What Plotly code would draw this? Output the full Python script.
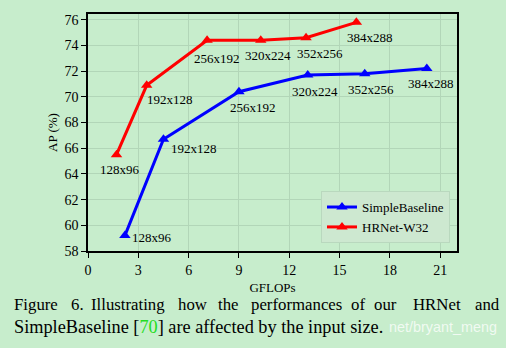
import plotly.graph_objects as go

# ---- data ----
sb_gflops = [2.2, 4.5, 9.0, 13.1, 16.5, 20.2]
sb_ap = [59.2, 66.7, 70.4, 71.7, 71.8, 72.2]
sb_sizes = ["128x96", "192x128", "256x192", "320x224", "352x256", "384x288"]

hr_gflops = [1.7, 3.5, 7.1, 10.3, 13.0, 16.0]
hr_ap = [65.5, 70.9, 74.4, 74.4, 74.6, 75.8]
hr_sizes = ["128x96", "192x128", "256x192", "320x224", "352x256", "384x288"]

x_ticks = [0, 3, 6, 9, 12, 15, 18, 21]
y_ticks = [58, 60, 62, 64, 66, 68, 70, 72, 74, 76]

# label offsets (pixels) -- style
sb_off = [(27, -2), (31, -9), (14, -16), (7, -16), (6, -16), (4, -15)]
hr_off = [(3, -15), (23, -14), (10, -18), (7, -15), (14, -16), (14, -15)]

BG = "#C7EDCC"
FONT = "Liberation Serif"

fig = go.Figure()
fig.add_trace(go.Scatter(x=sb_gflops, y=sb_ap, mode="lines+markers", name="SimpleBaseline",
                         line=dict(color="#0000ff", width=3),
                         marker=dict(symbol="triangle-up", size=10, color="#0000ff")))
fig.add_trace(go.Scatter(x=hr_gflops, y=hr_ap, mode="lines+markers", name="HRNet-W32",
                         line=dict(color="#ff0000", width=3),
                         marker=dict(symbol="triangle-up", size=10, color="#ff0000")))

anns = []
for xs, ys, labs, offs in [(sb_gflops, sb_ap, sb_sizes, sb_off), (hr_gflops, hr_ap, hr_sizes, hr_off)]:
    for xv, yv, lab, (dx, dy) in zip(xs, ys, labs, offs):
        anns.append(dict(x=xv, y=yv, xref="x", yref="y", text=lab, showarrow=False,
                         xshift=dx, yshift=dy, font=dict(family=FONT, size=13, color="black")))

L, R, T, B = 88, 457, 12, 251
def px(xp):
    return (xp - L) / (R - L)
def py(yp):
    return (B - yp) / (B - T)

# caption line 1 (justified words)
words = ["Figure", "6.", "Illustrating", "how", "the", "performances", "of", "our", "HRNet", "and"]
word_x = [12, 69, 89, 176, 216, 249, 349, 372, 411, 473]
for w, wx in zip(words, word_x):
    anns.append(dict(x=px(wx), y=py(305), xref="paper", yref="paper", xanchor="left", yanchor="middle",
                     text=w, showarrow=False, font=dict(family=FONT, size=16.8, color="black")))
anns.append(dict(x=px(12), y=py(328), xref="paper", yref="paper", xanchor="left", yanchor="middle",
                 text="SimpleBaseline [<span style='color:#22dd22'>70</span>] are affected by the input size.",
                 showarrow=False, font=dict(family=FONT, size=18.3, color="black")))
# visible part of the watermark
anns.append(dict(x=px(387), y=py(328), xref="paper", yref="paper", xanchor="left", yanchor="middle",
                 text="net/bryant_meng", showarrow=False,
                 font=dict(family="Liberation Sans", size=14.4, color="rgba(255,255,255,0.75)")))

fig.update_layout(
    width=506, height=348,
    margin=dict(l=L, r=506 - R, t=T, b=348 - B),
    paper_bgcolor=BG, plot_bgcolor=BG,
    font=dict(family=FONT, color="black"),
    showlegend=True,
    legend=dict(x=px(450), y=py(243), xanchor="right", yanchor="bottom",
                bgcolor="#CDE8D0", bordercolor="#B9D8BE", borderwidth=1,
                font=dict(family=FONT, size=13, color="black"), tracegroupgap=0),
    annotations=anns,
)
fig.update_xaxes(range=[0, 22], tickvals=x_ticks, showgrid=True, gridcolor="#B2D6B8", gridwidth=1,
                 showline=True, linecolor="black", linewidth=1.5, mirror=True,
                 ticks="outside", ticklen=5, tickcolor="black", tickfont=dict(family=FONT, size=14),
                 zeroline=False,
                 title=dict(text="GFLOPs", font=dict(family=FONT, size=13), standoff=6))
fig.update_yaxes(range=[58, 76.45], tickvals=y_ticks, showgrid=True, gridcolor="#B2D6B8", gridwidth=1,
                 showline=True, linecolor="black", linewidth=1.5, mirror=True,
                 ticks="outside", ticklen=5, tickcolor="black", tickfont=dict(family=FONT, size=14),
                 zeroline=False,
                 title=dict(text="AP (%)", font=dict(family=FONT, size=13), standoff=4))

fig.write_html("out.html")
